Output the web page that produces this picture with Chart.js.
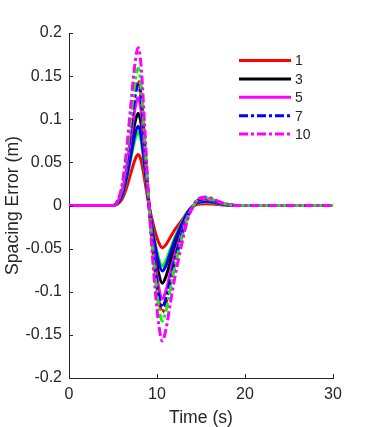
<!DOCTYPE html>
<html>
<head>
<meta charset="utf-8">
<title>Spacing Error</title>
<script src="https://cdn.jsdelivr.net/npm/chart.js@4"></script>
<style>
  html, body { margin: 0; padding: 0; background: #fff; }
  #wrap { width: 366px; height: 427px; }
</style>
</head>
<body>
<div id="wrap"><canvas id="mainChart" width="366" height="427"></canvas></div>
<script>
// time samples (s)
const time = [0, 5, 5.5, 6, 6.5, 7, 7.5, 7.85, 8.2, 8.6, 9.0,
              9.4, 9.8, 10.2, 10.6, 11.0, 11.5, 12.0, 12.5, 13.0, 13.5, 14.0,
              14.5, 15.5, 16.5, 17.5, 19, 30];

// spacing error (m)
const err1 = [0, 0, 0.0018, 0.0071, 0.0195, 0.0366, 0.0531, 0.059, 0.0519, 0.0295, 0.0053,
              -0.0147, -0.0309, -0.0431, -0.049, -0.0456, -0.0372, -0.0284, -0.0216, -0.0147, -0.0074, -0.002,
              0.0012, 0.002, 0.0014, 0.0006, 0, 0];
const err2 = [0, 0, 0.0026, 0.0102, 0.0281, 0.0527, 0.0765, 0.085, 0.0748, 0.0425, 0.0077,
              -0.021, -0.0441, -0.0616, -0.07, -0.0644, -0.0511, -0.0378, -0.0266, -0.0161, -0.007, -0.0014,
              0.0024, 0.004, 0.0028, 0.0012, 0, 0];
const err3 = [0, 0, 0.0032, 0.0128, 0.0353, 0.0663, 0.0963, 0.107, 0.0942, 0.0535, 0.0096,
              -0.027, -0.0567, -0.0792, -0.09, -0.0828, -0.0657, -0.0486, -0.0342, -0.0207, -0.009, -0.0018,
              0.0036, 0.006, 0.0042, 0.0018, 0, 0];
const err4 = [0, 0, 0.0028, 0.011, 0.0304, 0.057, 0.0828, 0.092, 0.081, 0.046, 0.0083,
              -0.0228, -0.0479, -0.0669, -0.076, -0.0699, -0.0555, -0.041, -0.0289, -0.0175, -0.0076, -0.0015,
              0.003, 0.005, 0.0035, 0.0015, 0, 0];
const err5 = [0, 0, 0.0038, 0.015, 0.0413, 0.0775, 0.1125, 0.125, 0.11, 0.0625, 0.0113,
              -0.0324, -0.068, -0.095, -0.108, -0.0994, -0.0788, -0.0583, -0.041, -0.0248, -0.0108, -0.0022,
              0.0042, 0.007, 0.0049, 0.0021, 0, 0];
const err6 = [0, 0, 0.0044, 0.0174, 0.0479, 0.0899, 0.1305, 0.145, 0.1276, 0.0725, 0.0131,
              -0.0372, -0.0781, -0.1091, -0.124, -0.1141, -0.0905, -0.067, -0.0471, -0.0285, -0.0124, -0.0025,
              0.0048, 0.008, 0.0056, 0.0024, 0, 0];
const err7 = [0, 0, 0.0042, 0.0168, 0.0462, 0.0868, 0.126, 0.14, 0.1232, 0.07, 0.0126,
              -0.0354, -0.0743, -0.1038, -0.118, -0.1086, -0.0861, -0.0637, -0.0448, -0.0271, -0.0118, -0.0024,
              0.0048, 0.008, 0.0056, 0.0024, 0, 0];
const err8 = [0, 0, 0.0048, 0.0191, 0.0525, 0.0986, 0.1431, 0.159, 0.1399, 0.0795, 0.0143,
              -0.0402, -0.0844, -0.1179, -0.134, -0.1233, -0.0978, -0.0724, -0.0509, -0.0308, -0.0134, -0.0027,
              0.0054, 0.009, 0.0063, 0.0027, 0, 0];
const err10 = [0, 0, 0.0055, 0.022, 0.0604, 0.1135, 0.1647, 0.183, 0.161, 0.0915, 0.0165,
               -0.0471, -0.0989, -0.1382, -0.157, -0.1444, -0.1146, -0.0848, -0.0597, -0.0361, -0.0157, -0.0031,
               0.006, 0.01, 0.007, 0.003, 0, 0];

const seriesLabels = ['1', '2', '3', '4', '5', '6', '7', '8', '10'];
const seriesData = [err1, err2, err3, err4, err5, err6, err7, err8, err10];
const seriesColors = ['#ff0000', '#00ff00', '#000000', '#0000ff', '#ff00ff', '#ff0000', '#0000ff', '#00ff00', '#ff00ff'];
const seriesDashed = [false, false, false, false, false, true, true, true, true];
const legendLabels = ['1', '3', '5', '7', '10'];

const yTicks = [-0.2, -0.15, -0.1, -0.05, 0, 0.05, 0.1, 0.15, 0.2];
const xTicks = [0, 10, 20, 30];

const axisColor = '#262626';
const fontFamily = '"Liberation Sans", Arial, Helvetica, sans-serif';
const dashDot = [9, 3, 3, 3];

const datasets = seriesData.map((vals, i) => ({
    label: seriesLabels[i],
    data: time.map((t, j) => ({ x: t, y: vals[j] })),
    borderColor: seriesColors[i],
    backgroundColor: seriesColors[i],
    borderWidth: 3,
    borderDash: seriesDashed[i] ? dashDot : [],
    pointRadius: 0,
    fill: false,
    cubicInterpolationMode: 'monotone',
    order: seriesData.length - i   // later series on top, like MATLAB
}));

// MATLAB style ticks pointing into the axes
const innerTicks = {
    id: 'innerTicks',
    afterDraw(chart) {
        const { ctx, chartArea, scales } = chart;
        ctx.save();
        ctx.strokeStyle = axisColor;
        ctx.lineWidth = 1;
        ctx.beginPath();
        yTicks.forEach(v => {
            const py = Math.round(scales.y.getPixelForValue(v)) + 0.5;
            ctx.moveTo(chartArea.left, py);
            ctx.lineTo(chartArea.left + 4, py);
        });
        xTicks.forEach(v => {
            const px = Math.round(scales.x.getPixelForValue(v)) + 0.5;
            ctx.moveTo(px, chartArea.bottom);
            ctx.lineTo(px, chartArea.bottom - 4);
        });
        ctx.stroke();
        ctx.restore();
    }
};

// legend in upper right, no frame
const lineLegend = {
    id: 'lineLegend',
    afterDraw(chart) {
        const { ctx } = chart;
        ctx.save();
        ctx.font = '14px ' + fontFamily;
        ctx.textBaseline = 'middle';
        ctx.textAlign = 'left';
        legendLabels.forEach((lab, k) => {
            const ds = chart.data.datasets.find(d => d.label === lab);
            const y = 60.5 + k * 18.4;
            ctx.strokeStyle = ds.borderColor;
            ctx.lineWidth = 3;
            ctx.setLineDash(ds.borderDash);
            ctx.beginPath();
            ctx.moveTo(239, y);
            ctx.lineTo(291, y);
            ctx.stroke();
            ctx.setLineDash([]);
            ctx.fillStyle = axisColor;
            ctx.fillText(lab, 295, y + 1);
        });
        ctx.restore();
    }
};

const ctx = document.getElementById('mainChart').getContext('2d');
new Chart(ctx, {
    type: 'line',
    data: { datasets: datasets },
    options: {
        responsive: false,
        animation: false,
        events: [],
        layout: { padding: { top: 33, right: 33, left: 0, bottom: 0 } },
        plugins: {
            legend: { display: false },
            tooltip: { enabled: false }
        },
        scales: {
            x: {
                type: 'linear',
                min: 0,
                max: 30,
                afterBuildTicks: scale => { scale.ticks = xTicks.map(v => ({ value: v })); },
                afterFit: scale => { scale.height = 49; },
                grid: { display: false, drawTicks: false },
                border: { display: true, color: axisColor, width: 1 },
                ticks: {
                    padding: 7,
                    color: axisColor,
                    font: { family: fontFamily, size: 16 },
                    maxRotation: 0
                },
                title: {
                    display: true,
                    text: 'Time (s)',
                    color: axisColor,
                    font: { family: fontFamily, size: 17.6, lineHeight: 1 },
                    padding: { top: 0, bottom: 0 }
                }
            },
            y: {
                type: 'linear',
                min: -0.2,
                max: 0.2,
                afterBuildTicks: scale => { scale.ticks = yTicks.map(v => ({ value: v })); },
                afterFit: scale => { scale.width = 69; },
                grid: { display: false, drawTicks: false },
                border: { display: true, color: axisColor, width: 1 },
                ticks: {
                    padding: 7,
                    color: axisColor,
                    font: { family: fontFamily, size: 16 },
                    callback: v => {
                        const r = Math.round(v * 100) / 100;
                        return r === 0 ? '0' : String(r);
                    }
                },
                title: {
                    display: true,
                    text: 'Spacing Error (m)',
                    color: axisColor,
                    font: { family: fontFamily, size: 17.6, lineHeight: 1 },
                    padding: { top: 4, bottom: 0 }
                }
            }
        }
    },
    plugins: [innerTicks, lineLegend]
});
</script>
</body>
</html>
